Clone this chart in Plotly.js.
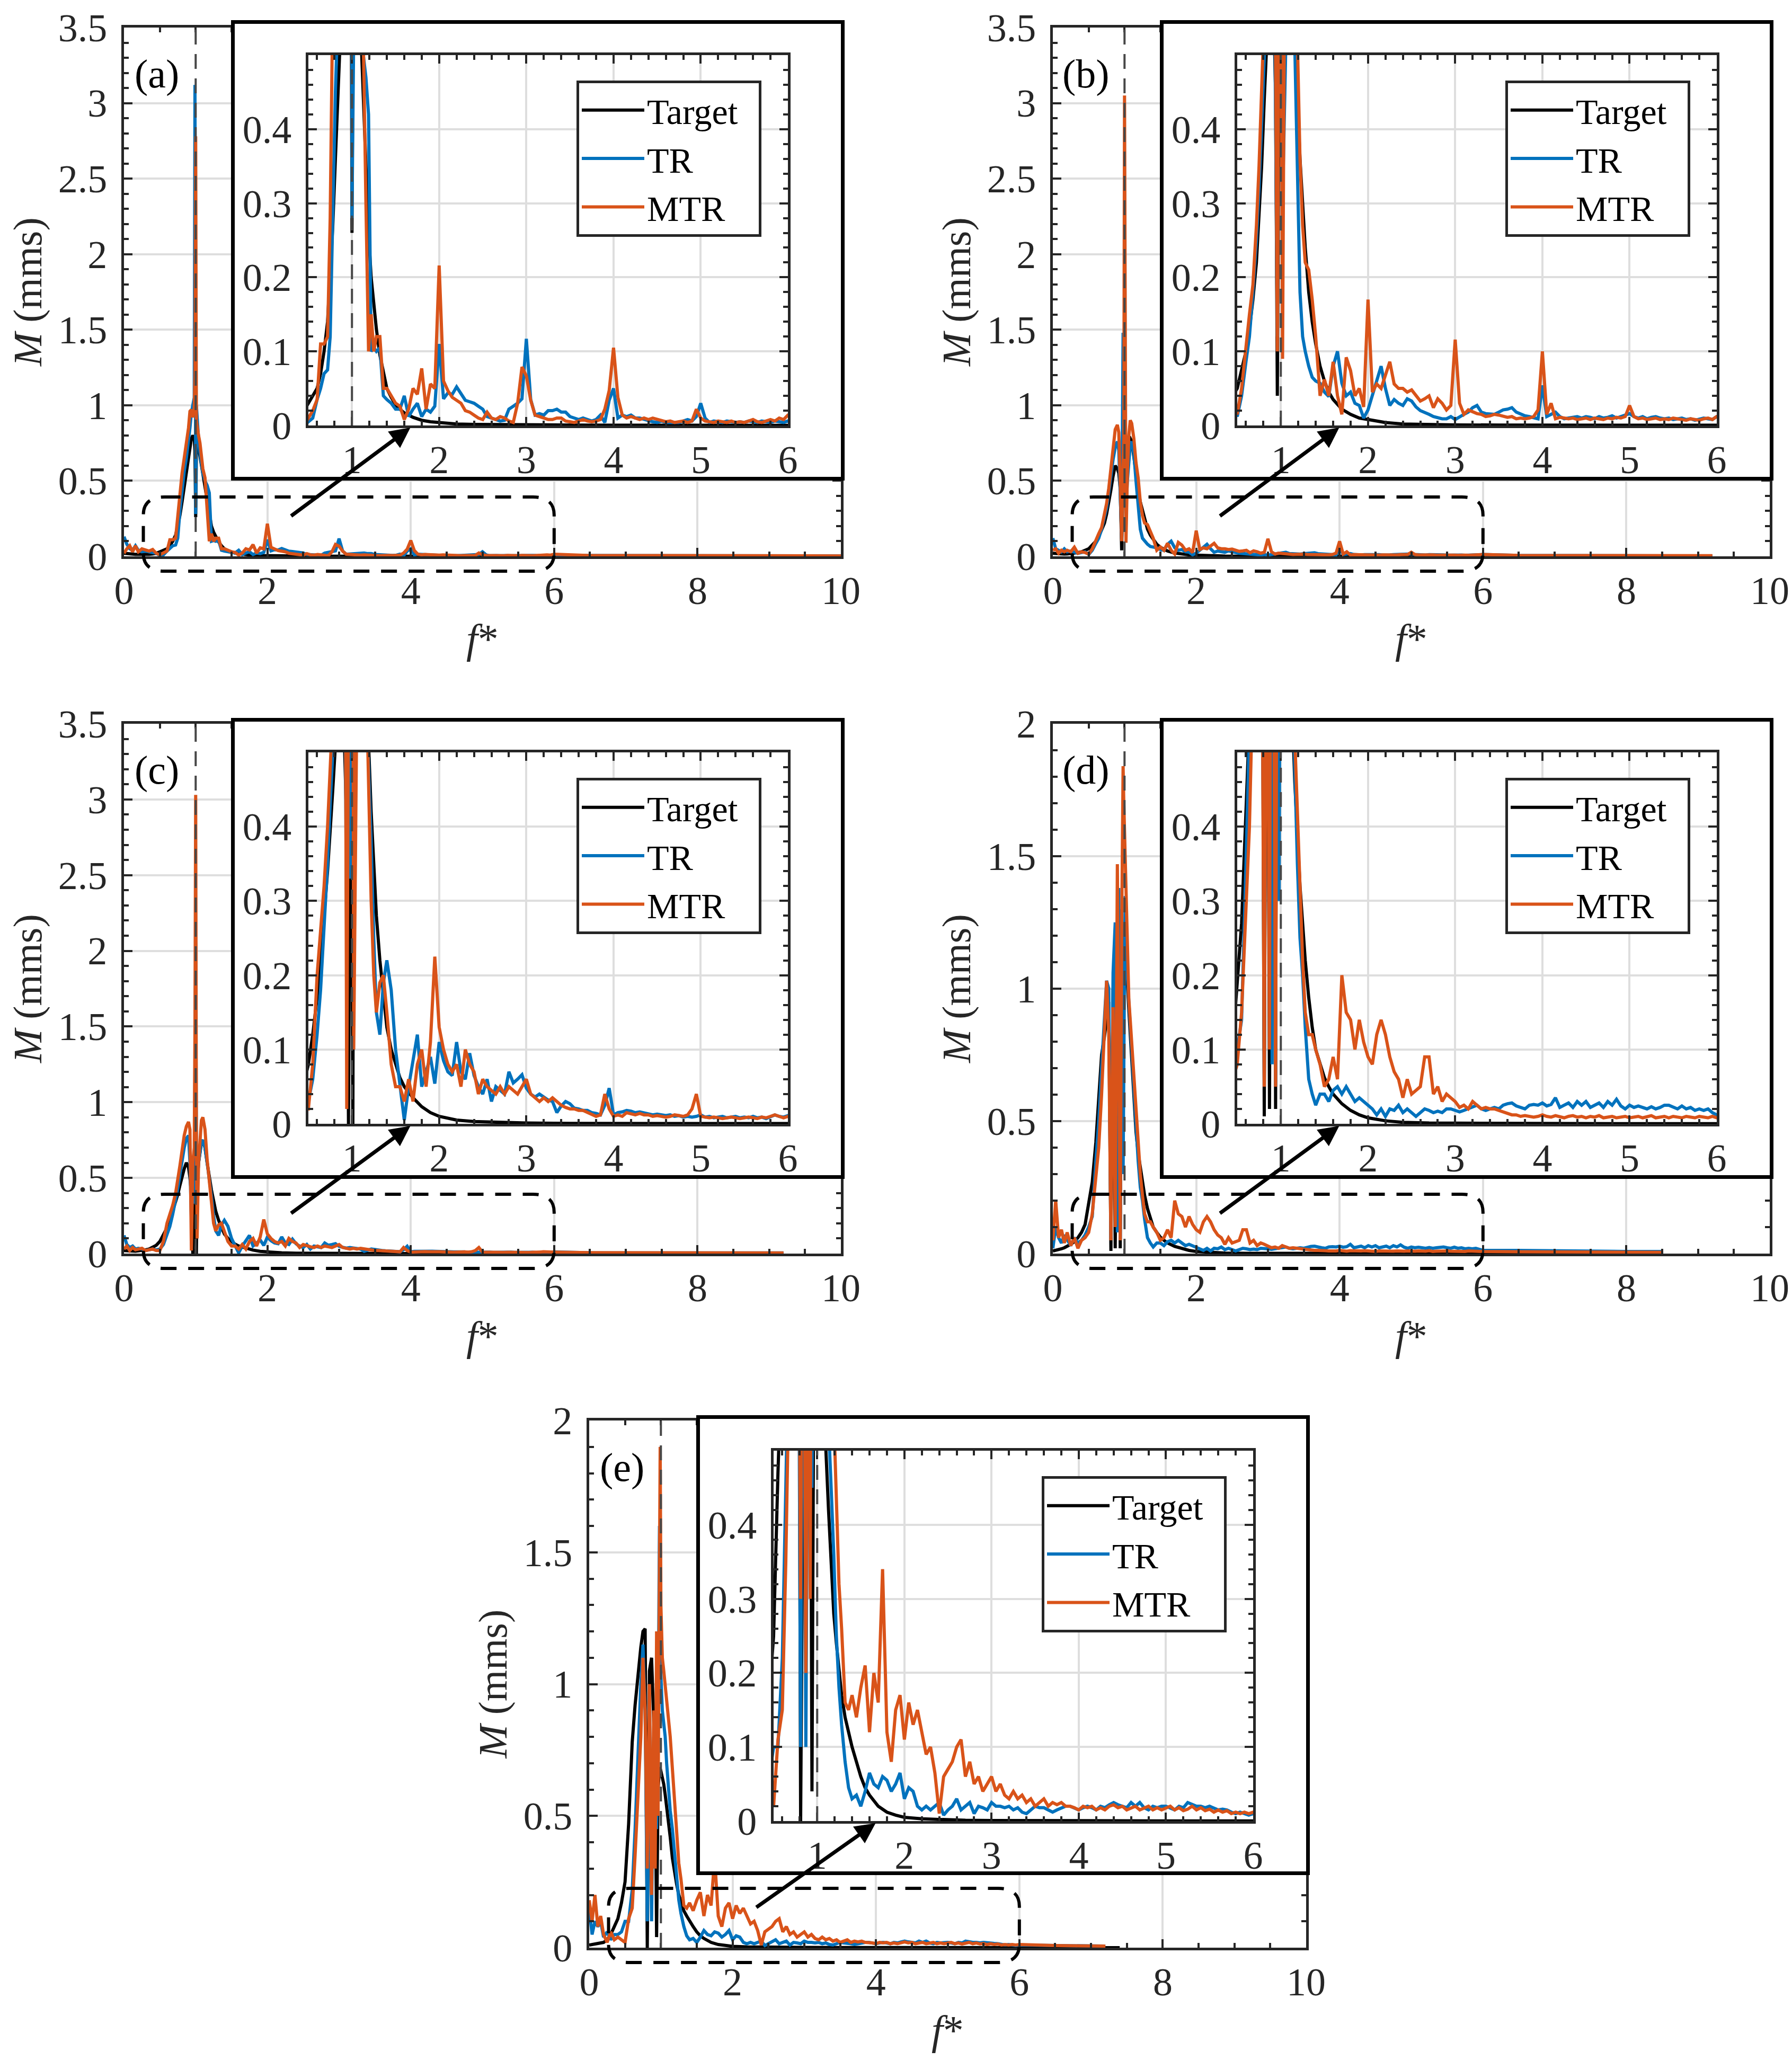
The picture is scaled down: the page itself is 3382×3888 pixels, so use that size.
<!DOCTYPE html>
<html>
<head>
<meta charset="utf-8">
<script src="https://cdn.plot.ly/plotly-3.0.1.min.js"></script>
<style>
  body { margin: 0; background: #fff; }
  #chart { width: 3382px; height: 3888px; }
</style>
</head>
<body>
<div id="chart"></div>
<script>
// frequency grid (f*) shared by the TR and MTR spectra
const freq = [
  0, 0.04, 0.08, 0.12, 0.16, 0.2, 0.25, 0.3, 0.35, 0.4, 0.45, 0.5, 0.55, 0.6,
  0.64, 0.68, 0.72, 0.75, 0.78, 0.81, 0.84, 0.87, 0.9, 0.92, 0.94, 0.96, 0.98, 0.99, 1.0, 1.01,
  1.02, 1.04, 1.06, 1.08, 1.1, 1.13, 1.16, 1.19, 1.22, 1.25, 1.28, 1.32, 1.36, 1.4,
  1.45, 1.5, 1.55, 1.6, 1.65, 1.7, 1.75, 1.8, 1.85, 1.9,
  1.95, 2.0, 2.05, 2.1, 2.15, 2.2, 2.25, 2.3, 2.35, 2.4,
  2.45, 2.5, 2.55, 2.6, 2.65, 2.7, 2.75, 2.8, 2.85, 2.9,
  2.95, 3.0, 3.05, 3.1, 3.15, 3.2, 3.25, 3.3, 3.35, 3.4,
  3.45, 3.5, 3.55, 3.6, 3.65, 3.7, 3.75, 3.8, 3.85, 3.9,
  3.95, 4.0, 4.05, 4.1, 4.15, 4.2, 4.25, 4.3, 4.35, 4.4,
  4.45, 4.5, 4.55, 4.6, 4.65, 4.7, 4.75, 4.8, 4.85, 4.9,
  4.95, 5.0, 5.05, 5.1, 5.15, 5.2, 5.25, 5.3, 5.35, 5.4,
  5.45, 5.5, 5.55, 5.6, 5.65, 5.7, 5.75, 5.8, 5.85, 5.9,
  5.95, 6.0,
  6.5, 7.0, 7.2, 7.5, 8.0, 8.5, 9.0, 9.2, 10.0
];

// frequency grid for the target spectra
const freqTarget = [
  0, 0.04, 0.08, 0.12, 0.16, 0.2, 0.25, 0.3, 0.35, 0.4, 0.45, 0.5, 0.55, 0.6,
  0.64, 0.68, 0.72, 0.75, 0.78, 0.81, 0.84, 0.87, 0.9, 0.92, 0.94, 0.96, 0.98, 0.99, 1.0, 1.01,
  1.02, 1.04, 1.06, 1.08, 1.1, 1.13, 1.16, 1.19, 1.22, 1.25, 1.28, 1.32, 1.36, 1.4,
  1.45, 1.5, 1.55, 1.6, 1.7, 1.8, 1.9, 2.0, 2.2, 2.4, 2.7, 3.0, 3.5, 4.0, 5.0, 6.0, 7.4, 8.5, 9.2, 10.0
];

// ---- panel (a)
const targetA = [
  0.02, 0.02, 0.016, 0.015, 0.013, 0.012, 0.012, 0.012, 0.013, 0.016, 0.02, 0.03, 0.04, 0.05,
  0.07, 0.1, 0.14, 0.2, 0.27, 0.36, 0.46, 0.55, 0.65, 0.72, 0.78, 0.8, 0.78, 0.7, 0.26, 0.7,
  0.76, 0.72, 0.66, 0.6, 0.55, 0.45, 0.35, 0.26, 0.2, 0.16, 0.13, 0.095, 0.07, 0.05,
  0.038, 0.028, 0.022, 0.017, 0.011, 0.007, 0.005, 0.004, 0.002, 0.0015, 0.001, 0.0008, 0.0005, 0.0004, 0.0002, 0.0001, 0, 0, 0, 0
];
const trA = [
  0.13, 0.08, 0.05, 0.04, 0.07, 0.04, 0.03, 0.035, 0.03, 0.025, 0.02, 0.005, 0.01, 0.035,
  0.05, 0.07, 0.075, 0.12, 0.3, 0.45, 0.56, 0.65, 0.75, 0.85, 0.95, 1.0, 1.05, 3.12, 0.28, 1.0,
  0.9, 0.78, 0.68, 0.6, 0.55, 0.5, 0.47, 0.42, 0.1, 0.105, 0.1, 0.105, 0.04, 0.035,
  0.03, 0.022, 0.022, 0.04, 0.012, 0.022, 0.03, 0.012, 0.022, 0.018,
  0.026, 0.11, 0.036, 0.044, 0.042, 0.052, 0.042, 0.034, 0.032, 0.03,
  0.026, 0.022, 0.012, 0.01, 0.008, 0.006, 0.007, 0.022, 0.026, 0.03,
  0.036, 0.117, 0.035, 0.014, 0.016, 0.014, 0.02, 0.02, 0.022, 0.018,
  0.018, 0.012, 0.01, 0.008, 0.01, 0.008, 0.006, 0.008, 0.014, 0.004,
  0.034, 0.05, 0.01, 0.014, 0.012, 0.014, 0.01, 0.01, 0.008, 0.006,
  0.005, 0.004, 0.006, 0.004, 0.004, 0.005, 0.004, 0.006, 0.008, 0.006,
  0.012, 0.03, 0.01, 0.004, 0.006, 0.005, 0.004, 0.006, 0.005, 0.004,
  0.005, 0.004, 0.006, 0.005, 0.004, 0.006, 0.005, 0.004, 0.006, 0.005,
  0.004, 0.006,
  0.005, 0.006, 0.004, 0.004, 0.004, 0.003, 0.004, 0.003, 0.003
];
const mtrA = [
  0.02, 0.05, 0.07, 0.03, 0.07, 0.03, 0.05, 0.04, 0.035, 0.045, 0.02, 0.01, 0.02, 0.035,
  0.11, 0.11, 0.12, 0.28, 0.42, 0.55, 0.65, 0.74, 0.85, 0.96, 0.97, 0.92, 0.98, 1.2, 2.78, 0.9,
  0.85, 0.8, 0.75, 0.65, 0.58, 0.52, 0.3, 0.1, 0.15, 0.1, 0.12, 0.12, 0.05, 0.05,
  0.04, 0.03, 0.026, 0.008, 0.022, 0.05, 0.042, 0.077, 0.022, 0.056,
  0.05, 0.216, 0.06, 0.047, 0.038, 0.034, 0.03, 0.02, 0.018, 0.014,
  0.01, 0.008, 0.018, 0.01, 0.008, 0.012, 0.01, 0.006, 0.004, 0.03,
  0.079, 0.067, 0.034, 0.014, 0.012, 0.01, 0.008, 0.008, 0.01, 0.01,
  0.006, 0.005, 0.004, 0.006, 0.008, 0.006, 0.005, 0.006, 0.008, 0.022,
  0.047, 0.105, 0.038, 0.014, 0.01, 0.012, 0.01, 0.008, 0.01, 0.008,
  0.01, 0.008, 0.006, 0.005, 0.006, 0.004, 0.005, 0.006, 0.004, 0.006,
  0.022, 0.01, 0.006, 0.005, 0.004, 0.006, 0.005, 0.004, 0.006, 0.004,
  0.005, 0.004, 0.006, 0.008, 0.005, 0.004, 0.006, 0.008, 0.006, 0.01,
  0.008, 0.014,
  0.005, 0.008, 0.005, 0.005, 0.004, 0.004, 0.004, 0.003, 0.003
];

// ---- panel (b)
const targetB = [
  0.02, 0.018, 0.016, 0.015, 0.015, 0.016, 0.018, 0.02, 0.025, 0.03, 0.04, 0.05, 0.075, 0.1,
  0.13, 0.17, 0.22, 0.28, 0.35, 0.44, 0.53, 0.6, 0.58, 0.55, 0.45, 0.04, 0.5, 0.58, 0.63, 0.66,
  0.69, 0.74, 0.77, 0.78, 0.76, 0.66, 0.54, 0.44, 0.36, 0.3, 0.24, 0.18, 0.14, 0.11,
  0.08, 0.06, 0.045, 0.035, 0.022, 0.015, 0.01, 0.008, 0.004, 0.002, 0.001, 0.0008, 0.0005, 0.0003, 0.0002, 0.0001, 0, 0, 0, null
];
const trB = [
  0.12, 0.05, 0.04, 0.03, 0.05, 0.03, 0.035, 0.03, 0.02, 0.025, 0.03, 0.012, 0.04, 0.086,
  0.12, 0.18, 0.25, 0.32, 0.42, 0.54, 0.64, 0.72, 0.76, 0.7, 0.4, 0.12, 1.48, 0.9, 0.6, 0.5,
  0.3, 0.5, 0.66, 0.74, 0.76, 0.68, 0.5, 0.32, 0.18, 0.12, 0.1, 0.08, 0.065, 0.06,
  0.057, 0.045, 0.039, 0.08, 0.1, 0.057, 0.04, 0.045, 0.03, 0.027,
  0.01, 0.021, 0.04, 0.06, 0.08, 0.05, 0.027, 0.035, 0.03, 0.027,
  0.036, 0.033, 0.025, 0.02, 0.018, 0.015, 0.012, 0.01, 0.009, 0.009,
  0.012, 0.008, 0.012, 0.015, 0.018, 0.024, 0.027, 0.018, 0.016, 0.015,
  0.015, 0.018, 0.021, 0.022, 0.024, 0.018, 0.015, 0.013, 0.012, 0.011,
  0.009, 0.054, 0.012, 0.015, 0.018, 0.012, 0.009, 0.01, 0.011, 0.012,
  0.01, 0.012, 0.011, 0.009, 0.012, 0.01, 0.011, 0.013, 0.01, 0.012,
  0.014, 0.016, 0.012, 0.01, 0.012, 0.009, 0.011, 0.012, 0.01, 0.009,
  0.01, 0.008, 0.009, 0.01, 0.008, 0.009, 0.007, 0.008, 0.01, 0.009,
  0.008, 0.012,
  0.006, 0.005, 0.005, 0.005, 0.004, 0.004, 0.004, 0.003, null
];
const mtrB = [
  0.04, 0.05, 0.02, 0.04, 0.03, 0.04, 0.03, 0.06, 0.02, 0.03, 0.025, 0.015, 0.05, 0.11,
  0.15, 0.19, 0.27, 0.35, 0.45, 0.58, 0.7, 0.84, 0.87, 0.82, 0.5, 0.1, 0.6, 0.8, 3.05, 0.4,
  0.09, 0.55, 0.8, 0.9, 0.88, 0.78, 0.62, 0.52, 0.36, 0.27, 0.22, 0.21, 0.17, 0.12,
  0.04, 0.062, 0.04, 0.086, 0.04, 0.015, 0.092, 0.074, 0.04, 0.05,
  0.025, 0.17, 0.045, 0.056, 0.05, 0.068, 0.086, 0.056, 0.05, 0.05,
  0.045, 0.048, 0.04, 0.033, 0.036, 0.04, 0.024, 0.036, 0.03, 0.021,
  0.027, 0.116, 0.03, 0.015, 0.021, 0.018, 0.016, 0.015, 0.012, 0.013,
  0.015, 0.014, 0.012, 0.011, 0.012, 0.009, 0.01, 0.009, 0.01, 0.012,
  0.021, 0.1, 0.015, 0.03, 0.009, 0.011, 0.01, 0.009, 0.01, 0.008,
  0.009, 0.01, 0.008, 0.01, 0.009, 0.008, 0.01, 0.009, 0.011, 0.01,
  0.012, 0.027, 0.012, 0.009, 0.01, 0.008, 0.009, 0.01, 0.008, 0.009,
  0.008, 0.01, 0.009, 0.008, 0.007, 0.009, 0.008, 0.007, 0.009, 0.01,
  0.008, 0.012,
  0.006, 0.006, 0.005, 0.005, 0.005, 0.004, 0.004, 0.004, null
];

// ---- panel (c)
const targetC = [
  0.02, 0.018, 0.016, 0.015, 0.016, 0.018, 0.02, 0.025, 0.03, 0.04, 0.055, 0.08, 0.12, 0.17,
  0.22, 0.28, 0.34, 0.39, 0.45, 0.51, 0.56, 0.6, 0.57, 0.5, 0.4, 0.0, 0.5, 0.4, 0.3, 0.0,
  0.45, 0.6, 0.68, 0.73, 0.75, 0.7, 0.6, 0.5, 0.42, 0.35, 0.28, 0.22, 0.17, 0.13,
  0.1, 0.08, 0.062, 0.05, 0.035, 0.023, 0.015, 0.01, 0.005, 0.003, 0.0015, 0.001, 0.0005, 0.0003, 0.0002, 0.0001, 0, 0, 0, null
];
const trC = [
  0.12, 0.06, 0.04, 0.05, 0.03, 0.035, 0.03, 0.02, 0.025, 0.03, 0.025, 0.03, 0.06, 0.12,
  0.18, 0.26, 0.35, 0.43, 0.52, 0.62, 0.7, 0.76, 0.78, 0.6, 0.22, 0.5, 0.33, 1.2, 2.05, 0.6,
  0.45, 0.6, 0.68, 0.74, 0.75, 0.7, 0.6, 0.5, 0.38, 0.25, 0.15, 0.12, 0.19, 0.22,
  0.18, 0.1, 0.05, 0.005, 0.05, 0.083, 0.12, 0.05, 0.07, 0.09,
  0.054, 0.11, 0.085, 0.07, 0.065, 0.11, 0.07, 0.06, 0.095, 0.065,
  0.05, 0.04, 0.06, 0.03, 0.05, 0.045, 0.04, 0.07, 0.055, 0.06,
  0.066, 0.048, 0.04, 0.036, 0.04, 0.036, 0.032, 0.03, 0.015, 0.024,
  0.03, 0.027, 0.021, 0.02, 0.018, 0.018, 0.015, 0.014, 0.012, 0.025,
  0.048, 0.012, 0.015, 0.016, 0.018, 0.017, 0.015, 0.016, 0.015, 0.013,
  0.012, 0.013, 0.012, 0.011, 0.012, 0.01, 0.011, 0.009, 0.01, 0.009,
  0.01, 0.012, 0.009, 0.01, 0.008, 0.009, 0.01, 0.008, 0.009, 0.01,
  0.008, 0.009, 0.008, 0.01, 0.008, 0.009, 0.007, 0.009, 0.012, 0.01,
  0.009, 0.011,
  0.005, 0.005, 0.005, 0.004, 0.005, 0.004, 0.004, 0.004, null
];
const mtrC = [
  0.03, 0.05, 0.02, 0.04, 0.025, 0.03, 0.035, 0.02, 0.025, 0.03, 0.02, 0.02, 0.08, 0.2,
  0.26, 0.32, 0.4, 0.48, 0.58, 0.68, 0.78, 0.84, 0.87, 0.82, 0.02, 0.6, 0.7, 1.5, 3.03, 0.8,
  0.1, 0.6, 0.78, 0.88, 0.9, 0.82, 0.62, 0.47, 0.3, 0.2, 0.15, 0.19, 0.2, 0.15,
  0.08, 0.05, 0.05, 0.03, 0.06, 0.03, 0.08, 0.1, 0.05, 0.11,
  0.225, 0.13, 0.1, 0.08, 0.07, 0.08, 0.05, 0.1, 0.08, 0.07,
  0.04, 0.06, 0.05, 0.045, 0.04, 0.05, 0.04, 0.05, 0.045, 0.04,
  0.05, 0.06, 0.04, 0.035, 0.03, 0.035, 0.03, 0.035, 0.03, 0.025,
  0.022, 0.02, 0.02, 0.018, 0.018, 0.015, 0.012, 0.01, 0.012, 0.04,
  0.02, 0.01, 0.012, 0.01, 0.015, 0.013, 0.012, 0.014, 0.012, 0.012,
  0.01, 0.011, 0.01, 0.009, 0.01, 0.012, 0.011, 0.01, 0.012, 0.02,
  0.04, 0.01, 0.009, 0.008, 0.009, 0.008, 0.007, 0.008, 0.009, 0.008,
  0.007, 0.008, 0.009, 0.008, 0.007, 0.009, 0.008, 0.01, 0.012, 0.01,
  0.008, 0.01,
  0.006, 0.005, 0.005, 0.005, 0.004, 0.004, 0.004, 0.004, null
];

// ---- panel (d)
const targetD = [
  0.01, 0.012, 0.015, 0.018, 0.022, 0.027, 0.035, 0.045, 0.06, 0.08, 0.11, 0.19, 0.27, 0.42,
  0.6, 0.75, 0.82, 0.88, 0.95, 0.01, 1.0, 0.02, 1.1, 1.12, 0.02, 1.15, 1.15, 1.14, 1.12, 1.1,
  1.08, 1.02, 0.92, 0.82, 0.72, 0.56, 0.46, 0.38, 0.32, 0.27, 0.22, 0.17, 0.13, 0.1,
  0.08, 0.062, 0.05, 0.04, 0.027, 0.018, 0.012, 0.008, 0.004, 0.002, 0.001, 0.0008, 0.0005, 0.0003, 0.0002, 0.0001, 0, 0, null, null
];
const trD = [
  0.02, 0.1, 0.06, 0.04, 0.07, 0.05, 0.03, 0.06, 0.04, 0.05, 0.07, 0.1, 0.14, 0.35,
  0.5, 0.7, 0.9, 1.03, 1.0, 0.06, 1.06, 1.25, 0.08, 1.38, 0.05, 1.3, 0.3, 1.0, 1.1, 1.35,
  1.2, 1.05, 0.95, 0.85, 0.75, 0.6, 0.48, 0.35, 0.25, 0.2, 0.13, 0.06, 0.04, 0.025,
  0.04, 0.04, 0.03, 0.045, 0.05, 0.04, 0.05, 0.04, 0.03, 0.035,
  0.03, 0.025, 0.02, 0.012, 0.02, 0.01, 0.02, 0.018, 0.025, 0.015,
  0.02, 0.015, 0.01, 0.015, 0.02, 0.018, 0.015, 0.017, 0.015, 0.02,
  0.02, 0.018, 0.016, 0.018, 0.02, 0.022, 0.025, 0.02, 0.018, 0.02,
  0.022, 0.02, 0.025, 0.027, 0.028, 0.024, 0.022, 0.02, 0.025, 0.026,
  0.025, 0.028, 0.024, 0.026, 0.035, 0.022, 0.025, 0.028, 0.022, 0.03,
  0.025, 0.03, 0.022, 0.025, 0.028, 0.022, 0.03, 0.025, 0.033, 0.024,
  0.02, 0.025, 0.022, 0.024, 0.022, 0.02, 0.023, 0.02, 0.022, 0.025,
  0.025, 0.022, 0.02, 0.024, 0.02, 0.022, 0.018, 0.02, 0.018, 0.02,
  0.015, 0.012,
  0.012, 0.01, 0.01, 0.009, 0.008, 0.008, null, null, null
];
const mtrD = [
  0.05, 0.2, 0.06, 0.09, 0.04, 0.08, 0.03, 0.06, 0.02, 0.05, 0.06, 0.08, 0.15, 0.28,
  0.4, 0.6, 0.85, 1.03, 0.83, 0.05, 0.93, 0.1, 1.47, 0.6, 0.05, 1.22, 1.84, 1.7, 1.6, 1.45,
  1.35, 1.15, 0.96, 0.88, 0.8, 0.68, 0.52, 0.42, 0.3, 0.22, 0.15, 0.12, 0.12, 0.1,
  0.08, 0.05, 0.06, 0.09, 0.06, 0.2, 0.15, 0.14, 0.1, 0.14,
  0.11, 0.09, 0.08, 0.12, 0.14, 0.12, 0.09, 0.07, 0.06, 0.035,
  0.06, 0.04, 0.045, 0.05, 0.09, 0.09, 0.04, 0.05, 0.03, 0.04,
  0.035, 0.03, 0.022, 0.025, 0.02, 0.03, 0.025, 0.02, 0.022, 0.02,
  0.02, 0.018, 0.015, 0.013, 0.012, 0.012, 0.01, 0.011, 0.01, 0.009,
  0.01, 0.012, 0.01, 0.009, 0.011, 0.01, 0.008, 0.01, 0.011, 0.009,
  0.01, 0.008, 0.01, 0.009, 0.011, 0.008, 0.009, 0.01, 0.008, 0.009,
  0.01, 0.008, 0.009, 0.01, 0.008, 0.009, 0.011, 0.008, 0.009, 0.01,
  0.008, 0.01, 0.009, 0.008, 0.01, 0.009, 0.008, 0.01, 0.009, 0.008,
  0.01, 0.008,
  0.007, 0.006, 0.006, 0.005, 0.005, 0.005, null, null, null
];

// ---- panel (e)
const targetE = [
  0.01, 0.012, 0.014, 0.015, 0.016, 0.02, 0.03, 0.05, 0.08, 0.11, 0.17, 0.25, 0.47, 0.78,
  0.92, 1.04, 1.14, 1.2, 1.21, 0.0, 1.05, 1.1, 0.9, 0.7, 0.04, 0.6, 0.68, 0.68, 0.67, 0.66,
  0.65, 0.62, 0.58, 0.54, 0.5, 0.42, 0.34, 0.28, 0.24, 0.2, 0.17, 0.14, 0.12, 0.1,
  0.08, 0.06, 0.045, 0.035, 0.02, 0.012, 0.008, 0.005, 0.003, 0.002, 0.001, 0.0008, 0.0005, 0.0003, 0.0002, 0.0001, 0, null, null, null
];
const trE = [
  0.15, 0.05, 0.1, 0.08, 0.1, 0.04, 0.06, 0.03, 0.05, 0.05, 0.06, 0.1, 0.1, 0.22,
  0.45, 0.75, 1.0, 1.15, 0.9, 0.1, 0.96, 0.1, 0.8, 0.6, 0.45, 0.8, 1.6, 1.1, 1.0, 0.95,
  0.9, 0.85, 0.8, 0.7, 0.62, 0.52, 0.45, 0.36, 0.25, 0.18, 0.13, 0.08, 0.045, 0.03,
  0.035, 0.02, 0.04, 0.065, 0.05, 0.045, 0.06, 0.055, 0.04, 0.05,
  0.065, 0.03, 0.045, 0.04, 0.02, 0.015, 0.02, 0.015, 0.02, 0.025,
  0.008, 0.015, 0.02, 0.03, 0.015, 0.02, 0.025, 0.01, 0.02, 0.018,
  0.015, 0.025, 0.02, 0.02, 0.018, 0.02, 0.015, 0.018, 0.012, 0.01,
  0.015, 0.02, 0.018, 0.018, 0.015, 0.012, 0.015, 0.018, 0.02, 0.02,
  0.018, 0.015, 0.018, 0.02, 0.018, 0.015, 0.02, 0.018, 0.022, 0.025,
  0.022, 0.02, 0.018, 0.025, 0.02, 0.025, 0.018, 0.015, 0.02, 0.018,
  0.02, 0.02, 0.018, 0.015, 0.02, 0.018, 0.025, 0.022, 0.02, 0.02,
  0.018, 0.02, 0.018, 0.015, 0.016, 0.015, 0.012, 0.01, 0.012, 0.01,
  0.008, 0.01,
  0.008, 0.007, 0.006, null, null, null, null, null, null
];
const mtrE = [
  0.18, 0.1, 0.2, 0.08, 0.12, 0.05, 0.02, 0.06, 0.03, 0.04, 0.03, 0.02, 0.11, 0.15,
  0.35, 0.55, 0.8, 1.1, 0.9, 0.3, 1.0, 0.2, 0.9, 0.3, 1.2, 0.5, 1.4, 1.9, 1.3, 1.15,
  1.1, 1.05, 1.0, 0.95, 0.9, 0.8, 0.68, 0.55, 0.42, 0.32, 0.26, 0.16, 0.15, 0.17,
  0.14, 0.18, 0.21, 0.12, 0.2, 0.16, 0.34, 0.12, 0.08, 0.15,
  0.17, 0.11, 0.16, 0.13, 0.15, 0.12, 0.09, 0.1, 0.065, 0.01,
  0.06, 0.07, 0.08, 0.1, 0.11, 0.06, 0.08, 0.05, 0.06, 0.04,
  0.05, 0.06, 0.04, 0.05, 0.035, 0.03, 0.04, 0.03, 0.035, 0.025,
  0.03, 0.02, 0.025, 0.03, 0.02, 0.025, 0.022, 0.025, 0.02, 0.02,
  0.018, 0.015, 0.02, 0.018, 0.02, 0.015, 0.018, 0.015, 0.02, 0.022,
  0.018, 0.02, 0.015, 0.018, 0.02, 0.015, 0.018, 0.02, 0.015, 0.018,
  0.015, 0.018, 0.02, 0.015, 0.018, 0.014, 0.016, 0.02, 0.015, 0.018,
  0.014, 0.016, 0.012, 0.015, 0.012, 0.014, 0.01, 0.012, 0.01, 0.012,
  0.01, 0.012,
  0.008, 0.007, 0.006, null, null, null, null, null, null
];

const seriesNames = ['Target', 'TR', 'MTR'];
const seriesColors = ['#000000', '#0072BD', '#D95319'];
const panelLabels = ['(a)', '(b)', '(c)', '(d)', '(e)'];
const mainYMax = [3.5, 3.5, 3.5, 2, 2];
const insetYTicks = [0, 0.1, 0.2, 0.3, 0.4];

// layout of the page, in pixels
const W = 3382, H = 3888;
const panels = [
  { data: [targetA, trA, mtrA], main: {l: 234, r: 1587, t: 52, b: 1050},
    box: {l: 443, r: 1587, t: 45, b: 900}, inset: {l: 582, r: 1487, t: 104, b: 803} },
  { data: [targetB, trB, mtrB], main: {l: 1987, r: 3340, t: 52, b: 1050},
    box: {l: 2196, r: 3340, t: 45, b: 900}, inset: {l: 2335, r: 3240, t: 104, b: 803} },
  { data: [targetC, trC, mtrC], main: {l: 234, r: 1587, t: 1366, b: 2366},
    box: {l: 443, r: 1587, t: 1362, b: 2218}, inset: {l: 582, r: 1487, t: 1420, b: 2121} },
  { data: [targetD, trD, mtrD], main: {l: 1987, r: 3340, t: 1366, b: 2366},
    box: {l: 2196, r: 3340, t: 1362, b: 2218}, inset: {l: 2335, r: 3240, t: 1420, b: 2121} },
  { data: [targetE, trE, mtrE], main: {l: 1112, r: 2465, t: 2681, b: 3676},
    box: {l: 1321, r: 2465, t: 2678, b: 3532}, inset: {l: 1460, r: 2365, t: 2738, b: 3437} }
];

const PX = x => x / W;
const PY = y => 1 - y / H;
const domX = p => [PX(p.l), PX(p.r)];
const domY = p => [PY(p.b), PY(p.t)];
const sfx = n => (n === 1 ? '' : String(n));

const serif = 'Liberation Serif, Times New Roman, serif';
const ink = '#262626';
const axisBase = {
  showline: true, mirror: 'allticks', linecolor: ink, linewidth: 5,
  ticks: 'inside', ticklen: 16, tickwidth: 4, tickcolor: ink,
  showgrid: true, gridcolor: '#dedede', gridwidth: 4, zeroline: false,
  tickfont: {family: serif, size: 74, color: ink}, fixedrange: true
};
const minorBase = {ticks: 'inside', ticklen: 9, tickwidth: 4, tickcolor: ink, showgrid: false};

const traces = [];
const layout = {
  width: W, height: H,
  margin: {l: 0, r: 0, t: 0, b: 0},
  paper_bgcolor: '#ffffff', plot_bgcolor: '#ffffff',
  font: {family: serif, color: '#000'},
  showlegend: true, hovermode: false,
  shapes: [], annotations: []
};

panels.forEach(function (p, i) {
  const nMain = 3 * i + 1, nBox = 3 * i + 2, nIn = 3 * i + 3;
  const m = p.main, bx = p.box, ins = p.inset;

  // main axes
  layout['xaxis' + sfx(nMain)] = Object.assign({}, axisBase, {
    domain: domX(m), anchor: 'y' + sfx(nMain), range: [0, 10], tick0: 0, dtick: 2,
    ticklabelstandoff: -4, minor: Object.assign({}, minorBase, {tick0: 0, dtick: 0.5})
  });
  layout['yaxis' + sfx(nMain)] = Object.assign({}, axisBase, {
    domain: domY(m), anchor: 'x' + sfx(nMain), range: [0, mainYMax[i]], tick0: 0, dtick: 0.5,
    ticklabelstandoff: 12, minor: Object.assign({}, minorBase, {tick0: 0, dtick: 0.1})
  });

  // white box that holds the zoomed view
  const boxAxis = {
    showline: true, mirror: true, linecolor: '#000', linewidth: 7, ticks: '',
    showticklabels: false, showgrid: false, zeroline: false, range: [0, 1], fixedrange: true
  };
  layout['xaxis' + sfx(nBox)] = Object.assign({}, boxAxis, {domain: domX(bx), anchor: 'y' + sfx(nBox)});
  layout['yaxis' + sfx(nBox)] = Object.assign({}, boxAxis, {domain: domY(bx), anchor: 'x' + sfx(nBox)});

  // inset axes
  layout['xaxis' + sfx(nIn)] = Object.assign({}, axisBase, {
    domain: domX(ins), anchor: 'y' + sfx(nIn), range: [0.5, 6], tick0: 0, dtick: 1,
    ticklabelstandoff: -4, minor: Object.assign({}, minorBase, {tick0: 0, dtick: 0.2})
  });
  layout['yaxis' + sfx(nIn)] = Object.assign({}, axisBase, {
    domain: domY(ins), anchor: 'x' + sfx(nIn), range: [0, 0.5], tickmode: 'array',
    tickvals: insetYTicks, ticklabelstandoff: 12,
    minor: Object.assign({}, minorBase, {tickmode: 'linear', tick0: 0, dtick: 0.02})
  });

  const legendId = i === 0 ? 'legend' : 'legend' + (i + 1);
  layout[legendId] = {
    x: PX(ins.r - 50), xanchor: 'right', y: PY(ins.t + 48), yanchor: 'top',
    bgcolor: '#ffffff', bordercolor: ink, borderwidth: 5,
    font: {family: serif, size: 68, color: '#000'},
    itemwidth: 118, tracegroupgap: 0, traceorder: 'normal'
  };

  // main curves
  p.data.forEach(function (ys, k) {
    traces.push({
      x: k === 0 ? freqTarget : freq, y: ys,
      xaxis: 'x' + sfx(nMain), yaxis: 'y' + sfx(nMain),
      type: 'scatter', mode: 'lines', name: seriesNames[k],
      line: {color: seriesColors[k], width: 6}, showlegend: false, hoverinfo: 'skip'
    });
  });
  // placeholder so the box subplot exists
  traces.push({
    x: [null], y: [null], xaxis: 'x' + sfx(nBox), yaxis: 'y' + sfx(nBox),
    type: 'scatter', mode: 'lines', showlegend: false, hoverinfo: 'skip'
  });
  // inset curves
  p.data.forEach(function (ys, k) {
    traces.push({
      x: k === 0 ? freqTarget : freq, y: ys,
      xaxis: 'x' + sfx(nIn), yaxis: 'y' + sfx(nIn),
      type: 'scatter', mode: 'lines', name: seriesNames[k] + '\u00a0\u00a0', legend: legendId,
      line: {color: seriesColors[k], width: 6}, showlegend: true, hoverinfo: 'skip'
    });
  });

  // dashed line at f* = 1 in both views
  [nMain, nIn].forEach(function (n) {
    layout.shapes.push({
      type: 'line', xref: 'x' + sfx(n), yref: 'y' + sfx(n) + ' domain',
      x0: 1, x1: 1, y0: 0, y1: 1, layer: 'above',
      line: {color: '#474747', width: 4, dash: '28px,18px'}
    });
  });

  // rounded dashed frame around the zoomed region
  const fx = f => m.l + f / 10 * (m.r - m.l);
  const x0 = fx(0.27), x1 = fx(6.0), yT = m.b - 112, yB = m.b + 28, rx = 40, ry = 34;
  const P = (x, y) => PX(x).toFixed(5) + ',' + PY(y).toFixed(5);
  layout.shapes.push({
    type: 'path', xref: 'paper', yref: 'paper', layer: 'above',
    path: 'M' + P(x0 + rx, yT) + ' L' + P(x1 - rx, yT) + ' Q' + P(x1, yT) + ' ' + P(x1, yT + ry) +
          ' L' + P(x1, yB - ry) + ' Q' + P(x1, yB) + ' ' + P(x1 - rx, yB) +
          ' L' + P(x0 + rx, yB) + ' Q' + P(x0, yB) + ' ' + P(x0, yB - ry) +
          ' L' + P(x0, yT + ry) + ' Q' + P(x0, yT) + ' ' + P(x0 + rx, yT) + ' Z',
    line: {color: '#000', width: 6, dash: '30px,22px'}
  });

  // arrow from the frame to the inset
  const tipX = ins.l + (1.67 - 0.5) / 5.5 * (ins.r - ins.l), tipY = ins.b + 4;
  const tailX = fx(2.32), tailY = m.b - 75;
  layout.annotations.push({
    xref: 'paper', yref: 'paper', x: PX(tipX), y: PY(tipY), axref: 'pixel', ayref: 'pixel',
    ax: tailX - tipX, ay: tailY - tipY, text: '', showarrow: true,
    arrowhead: 2, arrowsize: 1.1, arrowwidth: 7, arrowcolor: '#000', standoff: 0
  });

  // texts
  layout.annotations.push({
    xref: 'paper', yref: 'paper', x: PX(m.l + 62), y: PY(m.t + 88), text: panelLabels[i],
    showarrow: false, xanchor: 'center', yanchor: 'middle',
    font: {family: serif, size: 76, color: '#000'}
  });
  layout.annotations.push({
    xref: 'paper', yref: 'paper', x: PX(m.l - 182), y: PY((m.t + m.b) / 2),
    text: '<i>M</i> (mms)', textangle: -90, showarrow: false,
    xanchor: 'center', yanchor: 'middle',
    font: {family: serif, size: 76, color: ink}
  });
  layout.annotations.push({
    xref: 'paper', yref: 'paper', x: PX((m.l + m.r) / 2), y: PY(m.b + 155),
    text: '<i>f</i>*', showarrow: false, xanchor: 'center', yanchor: 'middle',
    font: {family: serif, size: 78, color: ink}
  });
});

Plotly.newPlot('chart', traces, layout, {staticPlot: true, displayModeBar: false});
</script>
</body>
</html>
